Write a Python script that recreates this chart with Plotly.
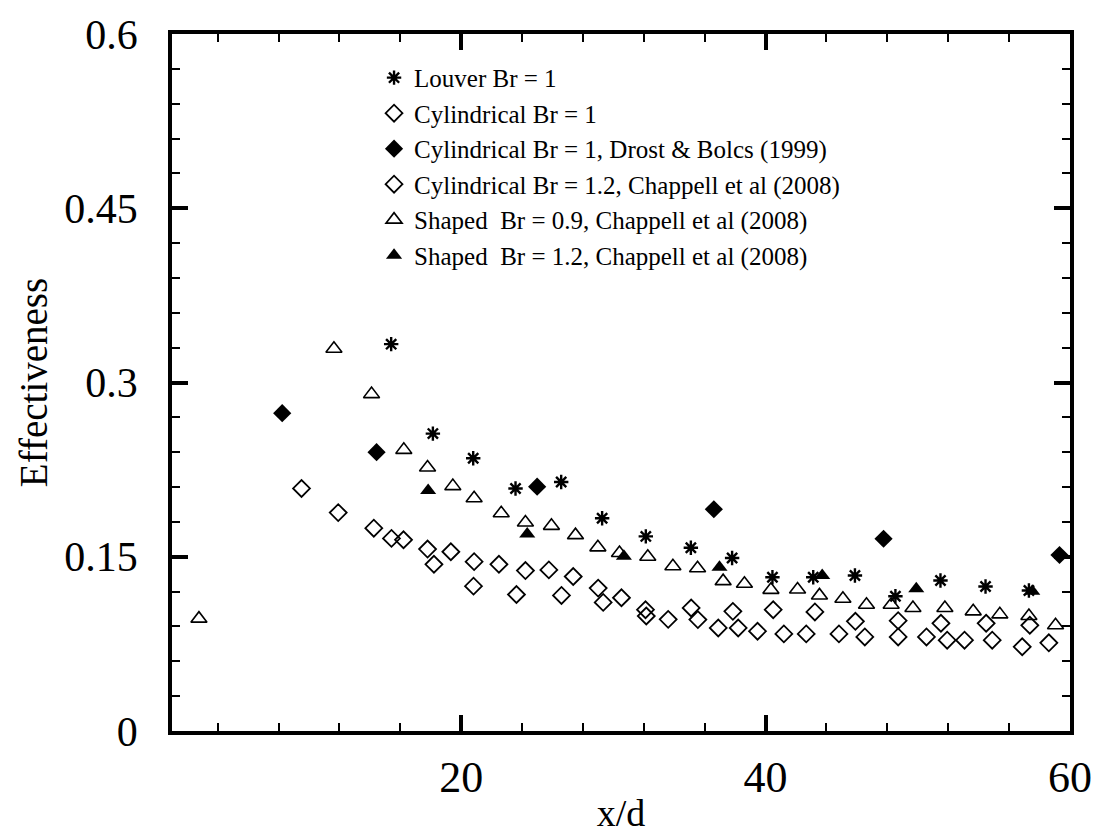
import plotly.graph_objects as go

# Louver Br = 1 (stars)
louver_x = [15.4, 18.14, 20.79, 23.57, 26.57, 29.26, 32.13, 35.09, 37.8, 40.45, 43.13, 45.87, 48.53, 51.49, 54.45, 57.3]
louver_y = [0.333, 0.256, 0.2348, 0.2088, 0.2143, 0.1832, 0.1675, 0.1578, 0.1489, 0.1324, 0.1324, 0.1338, 0.116, 0.1295, 0.1244, 0.121]

# Cylindrical Br = 1 (open diamonds)
cyl_x = [9.51, 11.92, 15.42, 18.21, 20.81, 23.63, 26.59, 29.33, 32.16, 35.11, 37.85, 40.5, 43.24, 45.9, 48.71, 51.52, 54.49, 57.36]
cyl_y = [0.2088, 0.188, 0.1658, 0.1435, 0.1247, 0.1175, 0.1167, 0.1107, 0.099, 0.1059, 0.103, 0.1044, 0.1025, 0.0944, 0.095, 0.0927, 0.0927, 0.091]

# Cylindrical Br = 1, Drost & Bolcs (1999) (filled diamonds)
drost_x = [8.24, 14.44, 24.99, 36.6, 47.75, 59.31]
drost_y = [0.2736, 0.240, 0.2103, 0.1909, 0.1655, 0.1515]

# Cylindrical Br = 1.2, Chappell et al (2008) (open diamonds)
chap_cyl_x = [14.26, 16.21, 17.79, 19.32, 20.85, 22.48, 24.22, 25.76, 27.36, 29.0, 30.53, 32.11, 33.6, 35.55,
              36.89, 38.2, 39.47, 41.2, 42.67, 44.82, 46.52, 48.71, 50.57, 51.93, 53.07, 54.89, 56.86, 58.61]
chap_cyl_y = [0.1746, 0.1646, 0.1566, 0.1543, 0.1458, 0.1435, 0.1381, 0.1387, 0.133, 0.123, 0.1147, 0.1044, 0.0961, 0.0959,
              0.0887, 0.0887, 0.0859, 0.0836, 0.0836, 0.0836, 0.081, 0.081, 0.081, 0.0782, 0.0782, 0.0782, 0.0725, 0.0759]

# Shaped Br = 0.9, Chappell et al (2008) (open triangles)
sh09_x = [2.77, 11.64, 14.11, 16.23, 17.79, 19.45, 20.85, 22.63, 24.22, 25.93, 27.51, 28.98, 30.4, 32.26, 33.91,
          35.53, 37.21, 38.61, 40.35, 42.1, 43.54, 45.08, 46.63, 48.25, 49.68, 51.78, 53.64, 55.39, 57.3, 59.05]
sh09_y = [0.0967, 0.329, 0.290, 0.242, 0.2268, 0.2108, 0.2003, 0.1874, 0.1795, 0.1766, 0.1686, 0.1581, 0.1532, 0.150, 0.1418,
          0.1401, 0.129, 0.1267, 0.1215, 0.1218, 0.1167, 0.1138, 0.1087, 0.1087, 0.1059, 0.1059, 0.103, 0.1004, 0.099, 0.091]

# Shaped Br = 1.2, Chappell et al (2008) (filled triangles)
sh12_x = [17.83, 24.34, 30.69, 36.97, 43.72, 49.9, 57.52]
sh12_y = [0.2071, 0.1695, 0.1504, 0.141, 0.1338, 0.1224, 0.1204]

names = [
    "Louver Br = 1",
    "Cylindrical Br = 1",
    "Cylindrical Br = 1, Drost & Bolcs (1999)",
    "Cylindrical Br = 1.2, Chappell et al (2008)",
    "Shaped\u00a0 Br = 0.9, Chappell et al (2008)",
    "Shaped\u00a0 Br = 1.2, Chappell et al (2008)",
]

y_ticks = [0, 0.15, 0.3, 0.45, 0.6]
y_ticktext = ["0", "0.15", "0.3", "0.45", "0.6"]
x_ticks = [20, 40, 60]

FONT = "Liberation Serif, Times New Roman, serif"

fig = go.Figure()
fig.add_trace(go.Scatter(x=louver_x, y=louver_y, mode="markers", name=names[0],
                         marker=dict(symbol="asterisk-open", size=12, color="black",
                                     line=dict(color="black", width=2.4))))
fig.add_trace(go.Scatter(x=cyl_x, y=cyl_y, mode="markers", name=names[1],
                         marker=dict(symbol="diamond-open", size=13, color="black",
                                     line=dict(color="black", width=1.8))))
fig.add_trace(go.Scatter(x=drost_x, y=drost_y, mode="markers", name=names[2],
                         marker=dict(symbol="diamond", size=14, color="black",
                                     line=dict(color="black", width=0))))
fig.add_trace(go.Scatter(x=chap_cyl_x, y=chap_cyl_y, mode="markers", name=names[3],
                         marker=dict(symbol="diamond-open", size=13, color="black",
                                     line=dict(color="black", width=1.8))))
fig.add_trace(go.Scatter(x=sh09_x, y=sh09_y, mode="markers", name=names[4],
                         marker=dict(symbol="triangle-up-open", size=14, color="black",
                                     line=dict(color="black", width=1.6))))
fig.add_trace(go.Scatter(x=sh12_x, y=sh12_y, mode="markers", name=names[5],
                         marker=dict(symbol="triangle-up", size=14, color="black",
                                     line=dict(color="black", width=0))))

axis_common = dict(
    showline=True, linecolor="black", linewidth=3.5, mirror="ticks",
    ticks="inside", ticklen=16, tickwidth=3.5, tickcolor="black",
    showgrid=False, zeroline=False, ticklabeloverflow="allow", automargin=False,
)

fig.update_xaxes(range=[1, 60], tickmode="array", tickvals=x_ticks,
                 minor=dict(tick0=0, dtick=4, ticks="inside", ticklen=8, tickwidth=1.5, tickcolor="black", showgrid=False),
                 tickfont=dict(family=FONT, size=44, color="black"), ticklabelstandoff=4,
                 title=dict(text="x/d", font=dict(family=FONT, size=38, color="black"), standoff=0),
                 **axis_common)
fig.update_yaxes(range=[0, 0.6], tickmode="array", tickvals=y_ticks, ticktext=y_ticktext,
                 minor=dict(tick0=0, dtick=0.03, ticks="inside", ticklen=8, tickwidth=1.5, tickcolor="black", showgrid=False),
                 tickfont=dict(family=FONT, size=42, color="black"), ticklabelstandoff=22,
                 title=dict(text="Effectiveness", font=dict(family=FONT, size=39, color="black"), standoff=6),
                 **axis_common)

fig.update_layout(
    width=1102, height=834,
    margin=dict(l=164, r=40, t=26, b=111),
    paper_bgcolor="white", plot_bgcolor="white",
    font=dict(family=FONT, color="black"),
    showlegend=True,
    legend=dict(x=0.225, y=0.97, xanchor="left", yanchor="top",
                bgcolor="rgba(0,0,0,0)", borderwidth=0,
                font=dict(family=FONT, size=25, color="black"),
                tracegroupgap=0, itemsizing="trace"),
)

fig.write_html("out.html")
